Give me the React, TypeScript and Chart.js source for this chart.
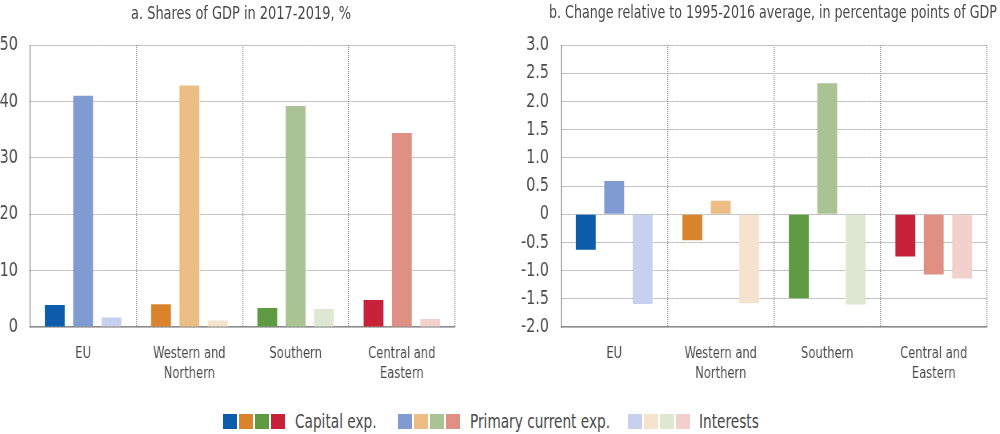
import React, { useEffect, useRef, useState } from "react";
import { Chart, registerables } from "chart.js";

Chart.register(...registerables);

const categories: (string | string[])[] = ["EU", ["Western and", "Northern"], "Southern", ["Central and", "Eastern"]];

const sharesCapital = [3.9, 4.05, 3.35, 4.8];
const sharesPrimary = [41.0, 42.8, 39.2, 34.4];
const sharesInterests = [1.7, 1.15, 3.2, 1.4];

const changeCapital = [-0.63, -0.46, -1.49, -0.75];
const changePrimary = [0.59, 0.24, 2.32, -1.07];
const changeInterests = [-1.59, -1.58, -1.6, -1.14];

const capitalColors = ["#0b5cab", "#d9842c", "#5e9a42", "#c8223b"];
const primaryColors = ["#7f9bd1", "#edbd86", "#a9c394", "#e08f84"];
const interestColors = ["#c7d0ec", "#f6e3cd", "#dde7d1", "#f2d0cc"];

const leftTitle = "a. Shares of GDP in 2017-2019, %";
const rightTitle = "b. Change relative to 1995-2016 average, in percentage points of GDP";

const legendItems = [
  { label: "Capital exp.", colors: capitalColors, boxX: 223, textX: 295 },
  { label: "Primary current exp.", colors: primaryColors, boxX: 398, textX: 470 },
  { label: "Interests", colors: interestColors, boxX: 628, textX: 699 },
];

const FONT = "'DejaVu Sans Condensed', 'DejaVu Sans', sans-serif";
const TEXT = "#4a4a4a";
const GRID = "#8c8c8c";
const K = 0.8; // horizontal compression of the canvases (condensed look)
const CW = 500; // displayed canvas width
const CH = 400;

function makeConfig(
  data: number[][],
  min: number,
  max: number,
  step: number,
  areaLeft: number,
  areaRight: number,
  fmt: (v: number) => string
): any {
  const logicalW = CW / K;
  return {
    type: "bar",
    data: {
      labels: categories,
      datasets: [
        { label: "Capital exp.", data: data[0], backgroundColor: capitalColors },
        { label: "Primary current exp.", data: data[1], backgroundColor: primaryColors },
        { label: "Interests", data: data[2], backgroundColor: interestColors },
      ].map((d) => ({ ...d, categoryPercentage: 0.8, barPercentage: 0.7, borderWidth: 0 })),
    },
    options: {
      animation: false,
      responsive: false,
      devicePixelRatio: 1,
      layout: { padding: { left: 0, right: logicalW - areaRight / K, top: 45, bottom: 0 } },
      plugins: {
        legend: { display: false },
        tooltip: { enabled: false },
        title: { display: false },
      },
      scales: {
        x: {
          grid: { offset: true, color: GRID, lineWidth: 1 / K, drawTicks: false },
          border: { display: true, color: GRID, dash: [1, 1], width: 1 / K },
          ticks: {
            color: TEXT,
            font: { family: FONT, size: 16, lineHeight: 1.25 },
            padding: 16.5,
            maxRotation: 0,
            autoSkip: false,
          },
        },
        y: {
          min,
          max,
          afterFit: (s: any) => {
            s.width = areaLeft / K;
          },
          grid: { color: GRID, lineWidth: 1, drawTicks: false },
          border: { display: true, color: GRID, dash: [1 / K, 1 / K] },
          ticks: {
            stepSize: step,
            autoSkip: false,
            color: TEXT,
            font: { family: FONT, size: 20 },
            padding: 15,
            callback: (v: any) => fmt(Number(v)),
          },
        },
      },
    },
  };
}

function ChartCanvas({ config, ready }: { config: any; ready: boolean }) {
  const ref = useRef<HTMLCanvasElement | null>(null);
  useEffect(() => {
    if (!ref.current || !ready) return;
    const chart = new Chart(ref.current, config);
    return () => chart.destroy();
  }, [config, ready]);
  return (
    <canvas
      ref={ref}
      width={Math.round(CW / K)}
      height={CH}
      style={{ width: CW + "px", height: CH + "px", display: "block" }}
    />
  );
}

function CondensedText({ text, x, y, size, center }: { text: string; x: number; y: number; size: number; center?: boolean }) {
  return (
    <div
      style={{
        position: "absolute",
        left: center ? x - 400 : x,
        top: y,
        width: center ? 800 : undefined,
        textAlign: center ? "center" : "left",
        whiteSpace: "nowrap",
        fontFamily: FONT,
        fontSize: size,
        lineHeight: "1",
        color: TEXT,
        transform: `scaleX(${K})`,
        transformOrigin: center ? "50% 50%" : "0 50%",
      }}
    >
      {text}
    </div>
  );
}

export default function App() {
  const [ready, setReady] = useState(false);
  useEffect(() => {
    document.body.style.margin = "0";
    let done = false;
    const finish = () => {
      if (!done) {
        done = true;
        setReady(true);
      }
    };
    const f: any = (document as any).fonts;
    if (f && f.load) {
      Promise.all([f.load("20px 'DejaVu Sans Condensed'"), f.load("20px 'DejaVu Sans'")]).then(finish, finish);
      setTimeout(finish, 1500);
    } else finish();
  }, []);

  const leftConfig = React.useMemo(
    () => makeConfig([sharesCapital, sharesPrimary, sharesInterests], 0, 50, 10, 30, 455, (v) => String(v)),
    []
  );
  const rightConfig = React.useMemo(
    () =>
      makeConfig([changeCapital, changePrimary, changeInterests], -2, 3, 0.5, 61, 487, (v) =>
        Math.abs(v) < 1e-9 ? "0" : v.toFixed(1)
      ),
    []
  );

  return (
    <div style={{ position: "relative", width: 1000, height: 434, background: "#fff", overflow: "hidden" }}>
      <div style={{ position: "absolute", left: 0, top: 0 }}>
        <ChartCanvas config={leftConfig} ready={ready} />
      </div>
      <div style={{ position: "absolute", left: 500, top: 0 }}>
        <ChartCanvas config={rightConfig} ready={ready} />
      </div>
      <CondensedText text={leftTitle} x={241} y={4} size={18} center />
      <CondensedText text={rightTitle} x={773} y={4} size={17.6} center />
      {legendItems.map((it, i) => (
        <React.Fragment key={i}>
          {it.colors.map((c, j) => (
            <div
              key={j}
              style={{ position: "absolute", left: it.boxX + j * 16, top: 414, width: 14, height: 15, background: c }}
            />
          ))}
          <CondensedText text={it.label} x={it.textX} y={412} size={19} />
        </React.Fragment>
      ))}
    </div>
  );
}
